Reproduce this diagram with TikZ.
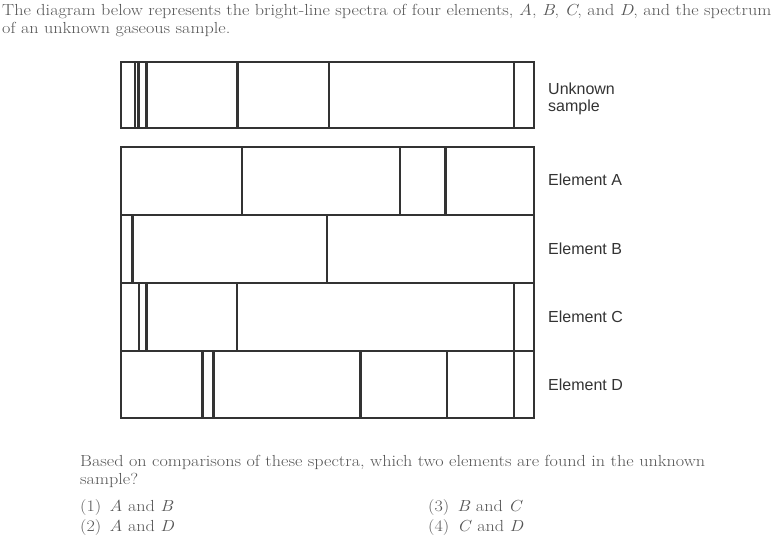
\documentclass[tikz,border=0pt]{standalone}
\usepackage{fontspec}
\setmainfont{Latin Modern Roman}[FakeStretch=1.135]
\newfontfamily\lab{Liberation Sans}
\definecolor{ink}{HTML}{333333}
\definecolor{txt}{HTML}{555555}
\begin{document}
\begin{tikzpicture}[x=1pt,y=-1pt,
  spec/.style={draw=ink,line width=2.2pt},
  lbl/.style={anchor=base west,inner sep=0pt,font=\lab\fontsize{16}{18}\selectfont,text=ink},
  body/.style={anchor=base west,inner sep=0pt,font=\fontsize{16}{18}\selectfont,text=txt}]
\useasboundingbox (0,0) rectangle (784,541);
% spectra
\draw[spec] (121,62) rectangle (534,128);
\foreach \x in {135,138.5,146.5,237.5,329,514} \draw[spec] (\x,62) -- (\x,128);
\draw[spec] (121,147) rectangle (534,215);
\foreach \x in {242,400,445.5} \draw[spec] (\x,147) -- (\x,215);
\draw[spec] (121,215) rectangle (534,283);
\foreach \x in {132.5,327} \draw[spec] (\x,215) -- (\x,283);
\draw[spec] (121,283) rectangle (534,351);
\foreach \x in {139,146.5,237,514} \draw[spec] (\x,283) -- (\x,351);
\draw[spec] (121,351) rectangle (534,418);
\foreach \x in {202.5,213.5,360.5,447,514} \draw[spec] (\x,351) -- (\x,418);
% labels
\node[lbl] (lu1) at (548,94) {Unknown};
\node[lbl] (lu2) at (548,111) {sample};
\node[lbl] (la) at (548,185) {Element A};
\node[lbl] (lb) at (548,254) {Element B};
\node[lbl] (lc) at (548,322) {Element C};
\node[lbl] (ld) at (548,390) {Element D};
% texts
\node[body] (t1) at (2,15) {The diagram below represents the bright-line spectra of four elements, \textit{A}, \textit{B}, \textit{C}, and \textit{D}, and the spectrum};
\node[body] (t2) at (2,33) {of an unknown gaseous sample.};
\node[body] (q1) at (80,466) {Based on comparisons of these spectra, which two elements are found in the unknown};
\node[body] (q2) at (80,484) {sample?};
\node[body] (o1) at (80,511) {(1)\hspace{0.5em}\textit{A} and \textit{B}};
\node[body] (o2) at (80,531) {(2)\hspace{0.5em}\textit{A} and \textit{D}};
\node[body] (o3) at (428,511) {(3)\hspace{0.5em}\textit{B} and \textit{C}};
\node[body] (o4) at (428,531) {(4)\hspace{0.5em}\textit{C} and \textit{D}};
\end{tikzpicture}
\end{document}
